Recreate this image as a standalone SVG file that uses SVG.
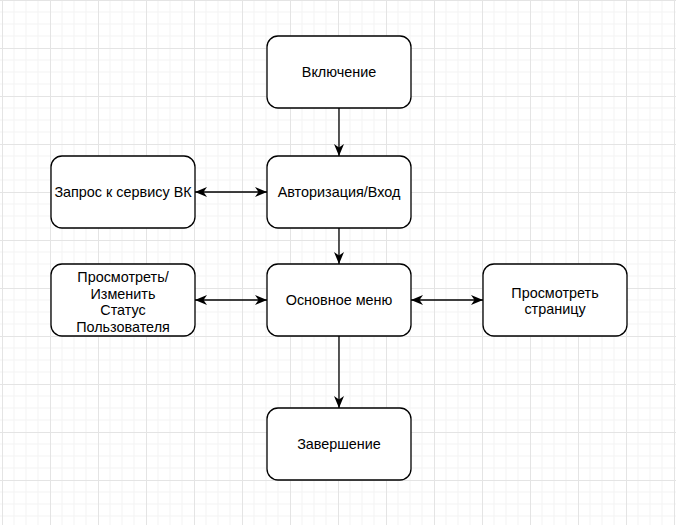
<svg xmlns="http://www.w3.org/2000/svg" width="676" height="525" viewBox="0 0 676 525">
  <defs>
    <pattern id="grid" x="2" y="0" width="48" height="48" patternUnits="userSpaceOnUse">
      <path d="M12 0V48M24 0V48M36 0V48M0 12H48M0 24H48M0 36H48" fill="none" stroke="#f3f3f3" stroke-width="1"/>
      <path d="M0.5 0V48M0 0.5H48" fill="none" stroke="#e4e4e4" stroke-width="1"/>
    </pattern>
    <marker id="arrow" viewBox="0 0 12 10" refX="12" refY="5" markerWidth="12" markerHeight="10" markerUnits="userSpaceOnUse" orient="auto-start-reverse">
      <path d="M0 0L12 5L0 10L3.5 5Z" fill="#000"/>
    </marker>
    <style>
      .box { fill: #fff; stroke: #000; stroke-width: 1.3; }
      .lbl { font-family: "Liberation Sans", Arial, sans-serif; font-size: 14.4px; fill: #000; text-anchor: middle; }
      .edge { fill: none; stroke: #000; stroke-width: 1.3; }
    </style>
  </defs>

  <rect width="676" height="525" fill="#fff"/>
  <rect width="676" height="525" fill="url(#grid)"/>

  <g id="connectors">
    <path class="edge" d="M339 108V156" marker-end="url(#arrow)"/>
    <path class="edge" d="M339 228V264" marker-end="url(#arrow)"/>
    <path class="edge" d="M339 336V408" marker-end="url(#arrow)"/>
    <path class="edge" d="M195 192H267" marker-start="url(#arrow)" marker-end="url(#arrow)"/>
    <path class="edge" d="M195 300H267" marker-start="url(#arrow)" marker-end="url(#arrow)"/>
    <path class="edge" d="M411 300H483" marker-start="url(#arrow)" marker-end="url(#arrow)"/>
  </g>

  <g id="node-start">
    <rect class="box" x="267" y="36" width="144" height="72" rx="11" ry="11"/>
    <text class="lbl" x="339" y="77">Включение</text>
  </g>

  <g id="node-auth">
    <rect class="box" x="267" y="156" width="144" height="72" rx="11" ry="11"/>
    <text class="lbl" x="339" y="197">Авторизация/Вход</text>
  </g>

  <g id="node-vk">
    <rect class="box" x="51" y="156" width="144" height="72" rx="11" ry="11"/>
    <text class="lbl" x="123" y="197">Запрос к сервису ВК</text>
  </g>

  <g id="node-status">
    <rect class="box" x="51" y="264" width="144" height="72" rx="11" ry="11"/>
    <text class="lbl" x="123" y="282">Просмотреть/</text>
    <text class="lbl" x="123" y="298.7">Изменить</text>
    <text class="lbl" x="123" y="315.4">Статус</text>
    <text class="lbl" x="123" y="332.1">Пользователя</text>
  </g>

  <g id="node-menu">
    <rect class="box" x="267" y="264" width="144" height="72" rx="11" ry="11"/>
    <text class="lbl" x="339" y="305">Основное меню</text>
  </g>

  <g id="node-page">
    <rect class="box" x="483" y="264" width="144" height="72" rx="11" ry="11"/>
    <text class="lbl" x="555" y="297.5">Просмотреть</text>
    <text class="lbl" x="555" y="314.2">страницу</text>
  </g>

  <g id="node-end">
    <rect class="box" x="267" y="408" width="144" height="72" rx="11" ry="11"/>
    <text class="lbl" x="339" y="449">Завершение</text>
  </g>
</svg>
